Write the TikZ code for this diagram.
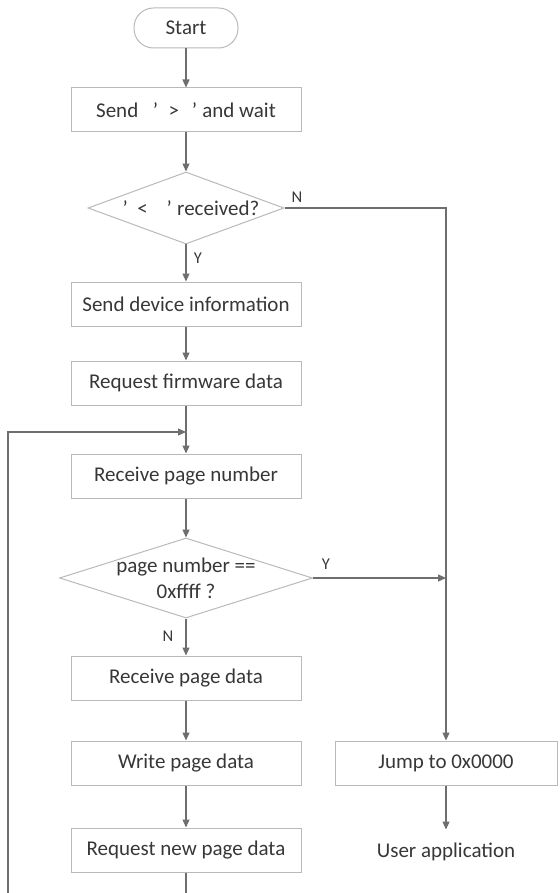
\documentclass[tikz,border=0pt]{standalone}
\usepackage{fontspec}
\setmainfont{Carlito}
\usetikzlibrary{shapes.geometric,arrows.meta}
\definecolor{linegray}{RGB}{110,110,110}
\definecolor{boxgray}{RGB}{185,185,185}
\definecolor{textgray}{RGB}{55,55,55}

\begin{document}
\begin{tikzpicture}[x=1pt,y=-1pt,line width=1pt,font=\fontsize{21}{26}\selectfont,text=textgray,
  box/.style={draw=boxgray,minimum width=230pt,minimum height=44pt,inner sep=0pt},
  decision/.style={draw=boxgray,shape=diamond,inner sep=0pt},
  flow/.style={draw=linegray,line width=1.2pt,-{Triangle[length=8pt,width=7pt]}},
  lbl/.style={font=\fontsize{16.5}{18}\selectfont}]
\useasboundingbox (0,0) rectangle (559,893);
\clip (0,0) rectangle (559,893);
% main column
\node[draw=boxgray,rounded corners=19.5pt,minimum width=104pt,minimum height=40pt] (start) at (186,28) {Start};
\node[box] (send) at (186,110) {Send\hspace{0.7em}'\hspace{0.5em}>\hspace{0.6em}'\hspace{0.25em}and wait};
\node[decision,minimum width=196pt,minimum height=72pt] (recv) at (186,208) {};
\node (recvtext) at (191,208) {'\hspace{0.45em}<\hspace{0.9em}'\hspace{0.25em}received?};
\node[box] (devinfo) at (186,304) {Send device information};
\node[box] (reqfw) at (186,383) {Request firmware data};
\coordinate (join) at (186,432);
\node[box] (recpn) at (186,476) {Receive page number};
\node[decision,minimum width=253pt,minimum height=80pt] (last) at (186,578) {};
\node[align=center] (lasttext) at (last) {page number ==\\0xffff ?};
\node[box] (recpd) at (186,678) {Receive page data};
\node[box] (write) at (186,763) {Write page data};
\node[box] (reqnew) at (186,850) {Request new page data};
% exit column
\node[box,minimum width=222pt] (jump) at (446,763) {Jump to 0x0000};
\node[box,draw=none] (user) at (446,852) {User application};
\coordinate (merge) at (jump.north |- last.east);
% labels
\node[lbl] (yrecv) at (198,258) {Y};
\node[lbl] (nrecv) at (297,197) {N};
\node[lbl] (ylast) at (326,564) {Y};
\node[lbl] (nlast) at (168,636) {N};
% connectors
\draw[flow] (start) -- (send);
\draw[flow] (send) -- (recv);
\draw[flow] (recv) -- (devinfo);
\draw[flow] (devinfo) -- (reqfw);
\draw[flow] (reqfw) -- (recpn);
\draw[flow] (recpn) -- (last);
\draw[flow] (last) -- (recpd);
\draw[flow] (recpd) -- (write);
\draw[flow] (write) -- (reqnew);
\draw[flow] (recv.east) -| (jump);
\draw[flow] (last.east) -- (merge);
\draw[flow] (jump) -- (user);
\draw[flow] (reqnew.south) -- ++(0,25) -| (8,432) -- (join);
\end{tikzpicture}
\end{document}
